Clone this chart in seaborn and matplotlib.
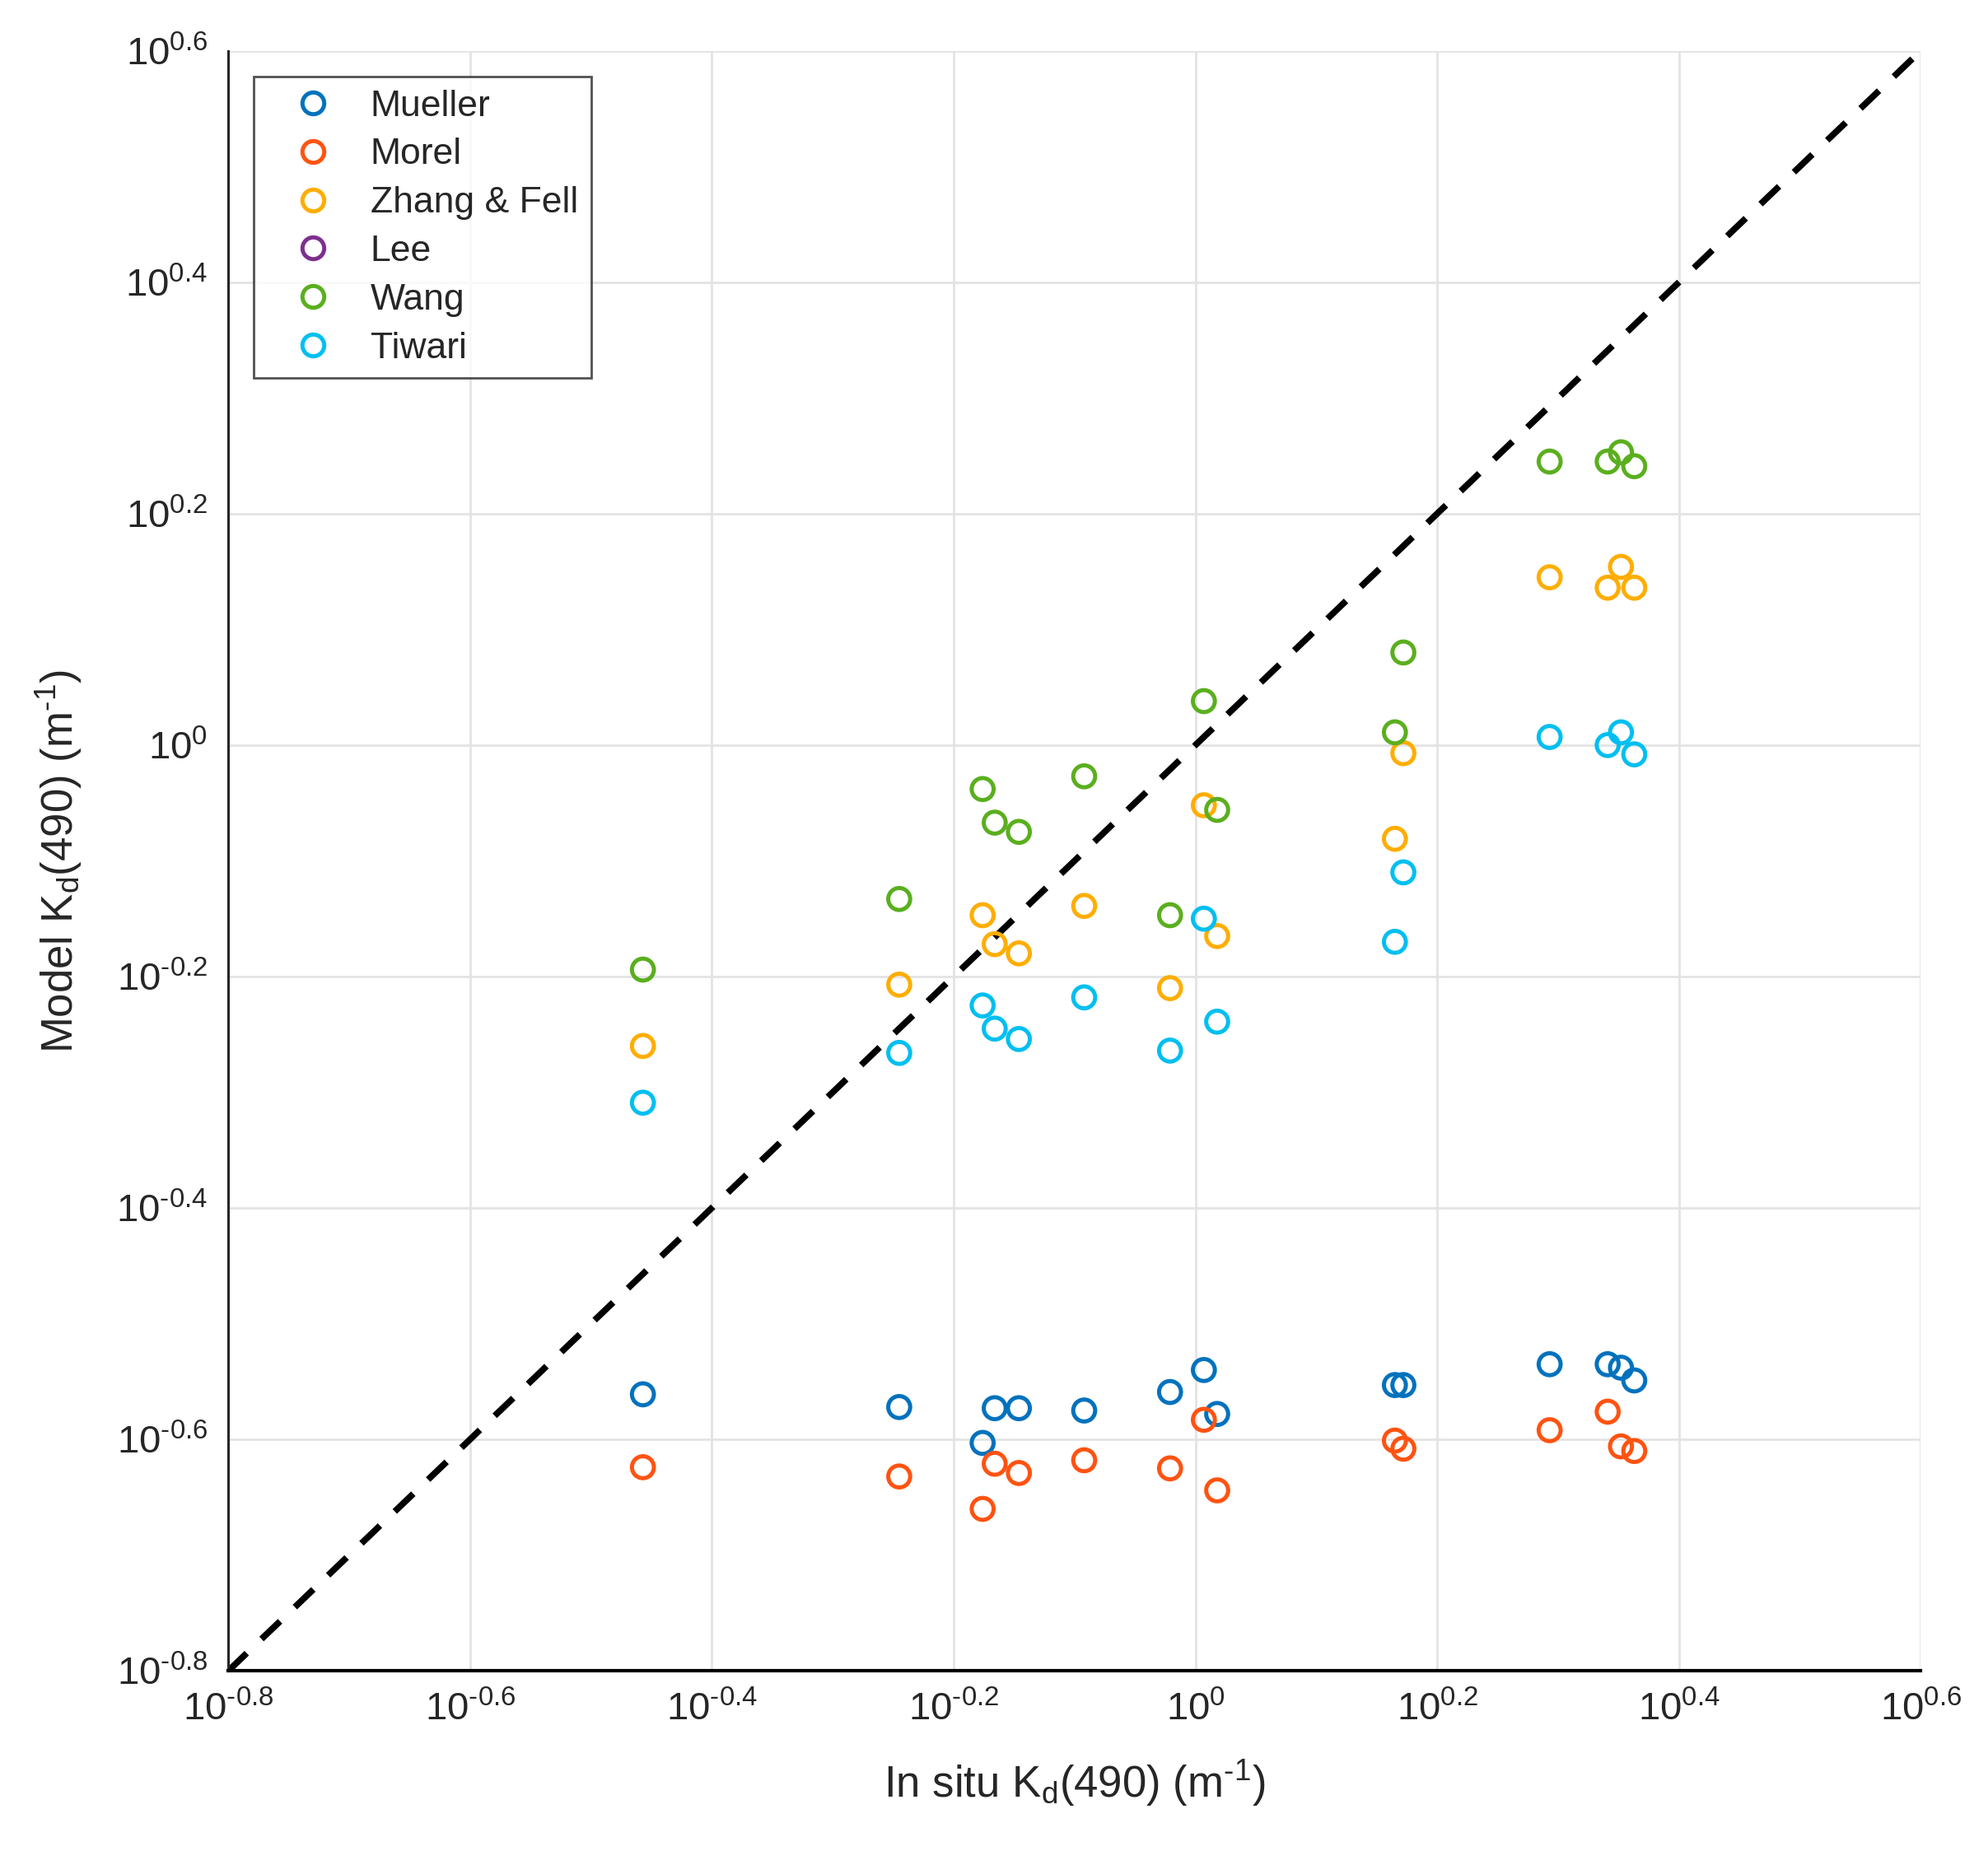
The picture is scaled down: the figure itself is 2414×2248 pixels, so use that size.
import numpy as np
import pandas as pd
import seaborn as sns
import matplotlib.pyplot as plt
from matplotlib.lines import Line2D
from matplotlib.ticker import FixedLocator, NullLocator

sns.set_style("white")
plt.rcParams["font.family"] = ["Liberation Sans", "DejaVu Sans"]
plt.rcParams["mathtext.fontset"] = "custom"
plt.rcParams["mathtext.rm"] = "Liberation Sans"
plt.rcParams["mathtext.it"] = "Liberation Sans:italic"

# log10 of in situ Kd(490), one value per station
insitu_log = [-0.457, -0.245, -0.176, -0.166, -0.146, -0.092, -0.021, 0.007,
              0.018, 0.165, 0.172, 0.293, 0.341, 0.352, 0.363]

# log10 of modelled Kd(490) for each model
mueller_log = [-0.561, -0.572, -0.603, -0.573, -0.573, -0.575, -0.559, -0.540,
               -0.578, -0.553, -0.553, -0.535, -0.535, -0.538, -0.549]
morel_log = [-0.624, -0.632, -0.660, -0.621, -0.629, -0.618, -0.625, -0.583,
             -0.644, -0.601, -0.608, -0.592, -0.576, -0.606, -0.610]
zhang_log = [-0.260, -0.207, -0.147, -0.172, -0.180, -0.139, -0.210, -0.052,
             -0.165, -0.081, -0.007, 0.145, 0.136, 0.154, 0.136]
lee_log = []  # no points visible in the chart
wang_log = [-0.194, -0.133, -0.038, -0.067, -0.075, -0.027, -0.147, 0.038,
            -0.056, 0.011, 0.080, 0.245, 0.245, 0.253, 0.241]
tiwari_log = [-0.309, -0.266, -0.225, -0.245, -0.254, -0.218, -0.264, -0.150,
              -0.239, -0.170, -0.110, 0.007, 0.000, 0.011, -0.008]

models = ["Mueller", "Morel", "Zhang & Fell", "Lee", "Wang", "Tiwari"]
colors = ["#0072BD", "#FF5312", "#FFAD00", "#7E2F8E", "#5AAF1E", "#00BFF0"]
series = [mueller_log, morel_log, zhang_log, lee_log, wang_log, tiwari_log]

tick_exp = ["-0.8", "-0.6", "-0.4", "-0.2", "0", "0.2", "0.4", "0.6"]

HY = "\u2010"  # short hyphen, as in the original labels

fig = plt.figure(figsize=(12.07, 11.24), dpi=200)
ax = fig.add_axes([0.1148, 0.0973, 0.8514, 0.8753])

# 1:1 line
lims = [10 ** -0.8, 10 ** 0.6]
ax.plot(lims, lims, color="black", linestyle=(0, (4.0, 3.2)), linewidth=2.8, zorder=1)

for name, col, vals in zip(models, colors, series):
    if len(vals) == 0:
        continue
    df = pd.DataFrame({"insitu": 10 ** np.array(insitu_log[:len(vals)]),
                       "model": 10 ** np.array(vals)})
    sns.scatterplot(data=df, x="insitu", y="model", ax=ax, marker="o", s=92,
                    facecolor="none", edgecolor=col, linewidth=1.8, zorder=3,
                    legend=False)

ax.set_xscale("log")
ax.set_yscale("log")
ax.set_xlim(lims)
ax.set_ylim(lims)

ticks = [10 ** float(e) for e in tick_exp]
labels = [r"$\mathregular{10^{%s}}$" % e.replace("-", HY) for e in tick_exp]
for axis in (ax.xaxis, ax.yaxis):
    axis.set_major_locator(FixedLocator(ticks))
    axis.set_minor_locator(NullLocator())
ax.set_xticklabels(labels)
ax.set_yticklabels(labels)

ax.tick_params(axis="both", direction="in", length=7, width=1.0, colors="#262626",
               labelsize=17, pad=9, labelcolor="#262626")
ax.grid(True, color="#e3e3e3", linewidth=1.0)
ax.set_axisbelow(True)
for side in ["top", "right"]:
    ax.spines[side].set_visible(False)
ax.spines["left"].set_color("#262626")
ax.spines["left"].set_linewidth(1.1)
ax.spines["bottom"].set_color("black")
ax.spines["bottom"].set_linewidth(1.5)

ax.set_xlabel(r"In situ K$_\mathregular{d}$(490) (m$^\mathregular{%s1}$)" % HY, fontsize=19,
              color="#262626", labelpad=13)
ax.set_ylabel(r"Model K$_\mathregular{d}$(490) (m$^\mathregular{%s1}$)" % HY, fontsize=19,
              color="#262626", labelpad=14)

handles = [Line2D([], [], linestyle="none", marker="o", markersize=9.5,
                  markerfacecolor="none", markeredgecolor=c, markeredgewidth=1.8)
           for c in colors]
leg = ax.legend(handles, models, loc="upper left", bbox_to_anchor=(0.015, 0.984),
                fontsize=16, frameon=True, fancybox=False, borderpad=0.35,
                labelspacing=0.4, handletextpad=0.28, handlelength=2.56,
                borderaxespad=0)
leg.get_frame().set_edgecolor("#262626")
leg.get_frame().set_linewidth(1.0)
for t in leg.get_texts():
    t.set_color("#262626")

fig.savefig("out.png", dpi=200)
